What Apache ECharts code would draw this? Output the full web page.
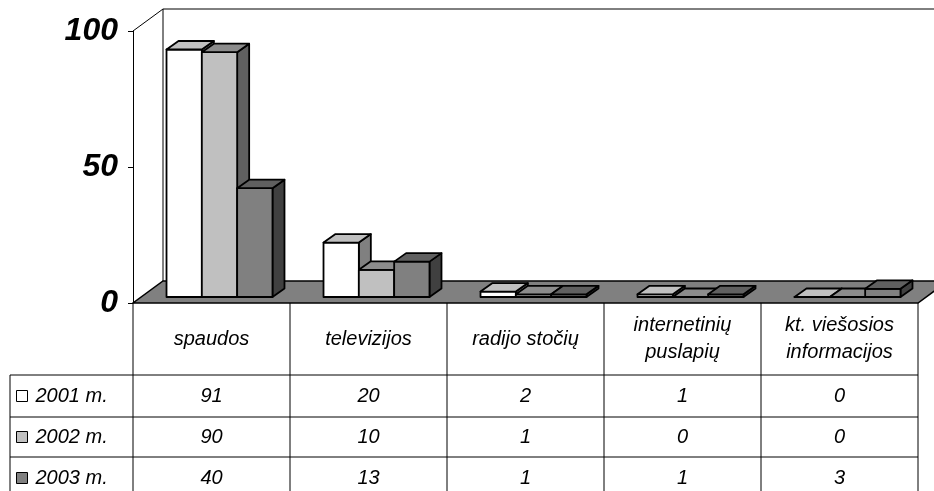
<!DOCTYPE html>
<html>
<head>
<meta charset="utf-8">
<script src="https://cdn.jsdelivr.net/npm/echarts@6/dist/echarts.min.js"></script>
<style>
  html, body { margin: 0; padding: 0; background: #fff; }
  #chart { width: 934px; height: 491px; }
</style>
</head>
<body>
<div id="chart"></div>
<script>
// duomenys
var categories = ['spaudos', 'televizijos', 'radijo stočių', 'internetinių\npuslapių', 'kt. viešosios\ninformacijos'];
var years = ['2001 m.', '2002 m.', '2003 m.'];
var values2001 = [91, 20, 2, 1, 0];
var values2002 = [90, 10, 1, 0, 0];
var values2003 = [40, 13, 1, 1, 3];
var yTicks = [0, 50, 100];

var seriesValues = [values2001, values2002, values2003];
// front, top, side
var faceColors = [
    ['#ffffff', '#c0c0c0', '#808080'],
    ['#c0c0c0', '#8c8c8c', '#606060'],
    ['#808080', '#606060', '#404040']
];

var FONT = '"Liberation Sans", Arial, sans-serif';
var TEXT_SIZE = 20;
var WALL_DX = 30, WALL_DY = -22;   // sienos gylis
var BAR_OX = 8, BAR_OY = -6;       // stulpelių plokštuma
var BAR_DX = 12, BAR_DY = -8.5;    // stulpelio gylis
var ROW_LINES = [375, 417, 457];
var ROW_TEXT = [396, 437, 478];
var TABLE_LEFT = 10, TABLE_BOTTOM = 491;

var myChart = echarts.init(document.getElementById('chart'));

function renderBackground(params, api) {
    var bw = api.size([1, 0])[0];
    var p0 = api.coord([0, 0]);
    var pTop = api.coord([0, yTicks[yTicks.length - 1]]);
    var left = p0[0] - bw / 2;
    var right = api.coord([categories.length - 1, 0])[0] + bw / 2;
    var y0 = p0[1];
    var children = [];
    var line = { stroke: '#000', lineWidth: 1, fill: 'none' };
    // grindys
    children.push({
        type: 'polygon',
        shape: { points: [[left, y0], [right, y0], [right + WALL_DX, y0 + WALL_DY], [left + WALL_DX, y0 + WALL_DY]] },
        style: { fill: '#808080', stroke: '#000', lineWidth: 1.5 }
    });
    // galinė siena
    children.push({ type: 'line', shape: { x1: left, y1: pTop[1], x2: left + WALL_DX, y2: pTop[1] + WALL_DY }, style: line });
    children.push({ type: 'line', shape: { x1: left + WALL_DX, y1: pTop[1] + WALL_DY, x2: right + WALL_DX, y2: pTop[1] + WALL_DY }, style: line });
    children.push({ type: 'line', shape: { x1: left + WALL_DX, y1: pTop[1] + WALL_DY, x2: left + WALL_DX, y2: y0 + WALL_DY }, style: line });
    // lentelė
    ROW_LINES.forEach(function (y) {
        children.push({ type: 'line', shape: { x1: TABLE_LEFT, y1: y, x2: right, y2: y }, style: line });
    });
    children.push({ type: 'line', shape: { x1: TABLE_LEFT, y1: ROW_LINES[0], x2: TABLE_LEFT, y2: TABLE_BOTTOM }, style: line });
    for (var i = 0; i <= categories.length; i++) {
        var x = left + i * bw;
        children.push({ type: 'line', shape: { x1: x, y1: y0, x2: x, y2: TABLE_BOTTOM }, style: line });
    }
    return { type: 'group', children: children };
}

function makeBarRenderer(s) {
    return function (params, api) {
        var i = api.value(0), v = api.value(1);
        var base = api.coord([i, 0]);
        var top = api.coord([i, v]);
        var bw = api.size([1, 0])[0];
        var w = bw * 0.225;
        var x0 = base[0] - bw * 0.3375 + s * w + BAR_OX;
        var x1 = x0 + w;
        var yb = base[1] + BAR_OY;
        var yt = top[1] + BAR_OY;
        var c = faceColors[s];
        var st = { stroke: '#000', lineWidth: 1.8, lineJoin: 'round' };
        return {
            type: 'group',
            children: [
                { type: 'polygon', shape: { points: [[x1, yt], [x1, yb], [x1 + BAR_DX, yb + BAR_DY], [x1 + BAR_DX, yt + BAR_DY]] },
                  style: Object.assign({ fill: c[2] }, st) },
                { type: 'rect', shape: { x: x0, y: yt, width: w, height: yb - yt },
                  style: Object.assign({ fill: c[0] }, st) },
                { type: 'polygon', shape: { points: [[x0, yt], [x1, yt], [x1 + BAR_DX, yt + BAR_DY], [x0 + BAR_DX, yt + BAR_DY]] },
                  style: Object.assign({ fill: c[1] }, st) },
                { type: 'text', style: { x: base[0], y: ROW_TEXT[s], text: String(v), align: 'center', verticalAlign: 'middle',
                  fontSize: TEXT_SIZE, fontStyle: 'italic', fontFamily: FONT, fill: '#000' } }
            ]
        };
    };
}

var series = [{
    type: 'custom',
    name: 'fonas',
    silent: true,
    renderItem: renderBackground,
    data: [[0, 0]],
    z: 1
}];
years.forEach(function (name, s) {
    series.push({
        type: 'custom',
        name: name,
        renderItem: makeBarRenderer(s),
        itemStyle: { color: faceColors[s][0], borderColor: '#000', borderWidth: 1 },
        data: seriesValues[s].map(function (v, i) { return [i, v]; }),
        z: 2
    });
});

option = {
    animation: false,
    backgroundColor: '#fff',
    grid: { left: 133, right: 16, top: 31, bottom: 188 },
    legend: {
        data: years,
        orient: 'vertical',
        left: 16,
        top: 386,
        height: 110,
        padding: 0,
        itemWidth: 11,
        itemHeight: 11,
        itemGap: 21,
        icon: 'rect',
        itemStyle: { borderColor: '#000', borderWidth: 1 },
        textStyle: { fontSize: TEXT_SIZE, fontStyle: 'italic', fontFamily: FONT, color: '#000', lineHeight: 20, padding: [0, 0, 0, 3] }
    },
    xAxis: {
        type: 'category',
        data: categories,
        axisLine: { show: false },
        axisTick: { show: false },
        axisLabel: {
            interval: 0, margin: 36, verticalAlign: 'middle',
            fontSize: TEXT_SIZE, fontStyle: 'italic', fontFamily: FONT, color: '#000', lineHeight: 27
        }
    },
    yAxis: {
        type: 'value',
        min: yTicks[0],
        max: yTicks[yTicks.length - 1],
        interval: yTicks[1] - yTicks[0],
        splitLine: { show: false },
        axisLine: { show: true, lineStyle: { color: '#000', width: 1 } },
        axisTick: { show: true, length: 5, lineStyle: { color: '#000' } },
        axisLabel: { margin: 15, fontSize: 32, fontWeight: 'bold', fontStyle: 'italic', fontFamily: FONT, color: '#000' }
    },
    series: series
};

myChart.setOption(option);
</script>
</body>
</html>
